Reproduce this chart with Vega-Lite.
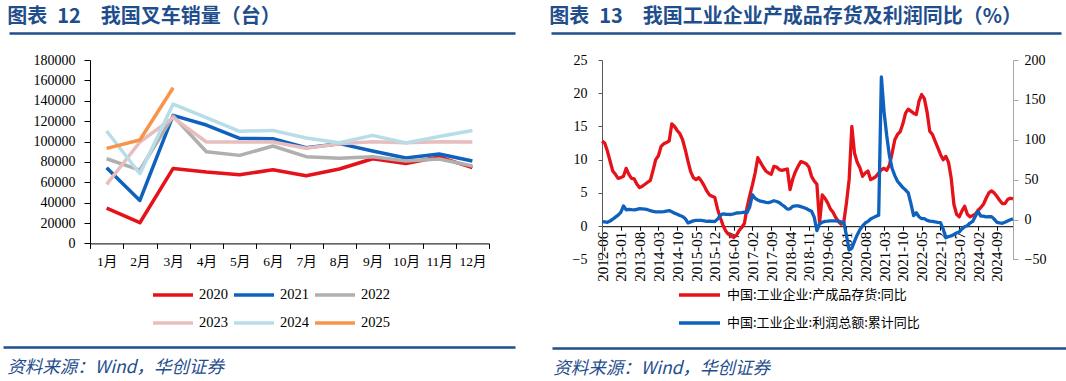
{
  "$schema": "https://vega.github.io/schema/vega-lite/v6.json",
  "background": "white",
  "padding": {"left": 0, "top": 6, "right": 0, "bottom": 0},
  "config": {
    "view": {"stroke": null},
    "axis": {"grid": false, "labelColor": "#000", "labelFont": "Liberation Serif", "labelFontSize": 14, "domainColor": "#000", "tickColor": "#000", "title": null},
    "legend": {"padding": 0}
  },
  "resolve": {"scale": {"color": "independent"}, "legend": {"color": "independent"}},
  "datasets": {
    "forklift": [
      {"year": "2020", "month": "1月", "sales": 34700}, {"year": "2020", "month": "2月", "sales": 20300}, {"year": "2020", "month": "3月", "sales": 73600}, {"year": "2020", "month": "4月", "sales": 70000}, {"year": "2020", "month": "5月", "sales": 67400}, {"year": "2020", "month": "6月", "sales": 72200}, {"year": "2020", "month": "7月", "sales": 66400}, {"year": "2020", "month": "8月", "sales": 73000}, {"year": "2020", "month": "9月", "sales": 83100}, {"year": "2020", "month": "10月", "sales": 78500}, {"year": "2020", "month": "11月", "sales": 84800}, {"year": "2020", "month": "12月", "sales": 74300},
      {"year": "2021", "month": "1月", "sales": 74300}, {"year": "2021", "month": "2月", "sales": 42200}, {"year": "2021", "month": "3月", "sales": 125700}, {"year": "2021", "month": "4月", "sales": 116200}, {"year": "2021", "month": "5月", "sales": 103100}, {"year": "2021", "month": "6月", "sales": 102800}, {"year": "2021", "month": "7月", "sales": 93900}, {"year": "2021", "month": "8月", "sales": 97900}, {"year": "2021", "month": "9月", "sales": 90700}, {"year": "2021", "month": "10月", "sales": 83800}, {"year": "2021", "month": "11月", "sales": 87700}, {"year": "2021", "month": "12月", "sales": 80800},
      {"year": "2022", "month": "1月", "sales": 83100}, {"year": "2022", "month": "2月", "sales": 72000}, {"year": "2022", "month": "3月", "sales": 125000}, {"year": "2022", "month": "4月", "sales": 90000}, {"year": "2022", "month": "5月", "sales": 86400}, {"year": "2022", "month": "6月", "sales": 95600}, {"year": "2022", "month": "7月", "sales": 85100}, {"year": "2022", "month": "8月", "sales": 83500}, {"year": "2022", "month": "9月", "sales": 85100}, {"year": "2022", "month": "10月", "sales": 80800}, {"year": "2022", "month": "11月", "sales": 82800}, {"year": "2022", "month": "12月", "sales": 75900},
      {"year": "2023", "month": "1月", "sales": 57900}, {"year": "2023", "month": "2月", "sales": 99500}, {"year": "2023", "month": "3月", "sales": 123400}, {"year": "2023", "month": "4月", "sales": 99500}, {"year": "2023", "month": "5月", "sales": 99500}, {"year": "2023", "month": "6月", "sales": 99500}, {"year": "2023", "month": "7月", "sales": 93300}, {"year": "2023", "month": "8月", "sales": 97900}, {"year": "2023", "month": "9月", "sales": 99800}, {"year": "2023", "month": "10月", "sales": 98800}, {"year": "2023", "month": "11月", "sales": 99800}, {"year": "2023", "month": "12月", "sales": 99500},
      {"year": "2024", "month": "1月", "sales": 110300}, {"year": "2024", "month": "2月", "sales": 68400}, {"year": "2024", "month": "3月", "sales": 136800}, {"year": "2024", "month": "4月", "sales": 123400}, {"year": "2024", "month": "5月", "sales": 110000}, {"year": "2024", "month": "6月", "sales": 110900}, {"year": "2024", "month": "7月", "sales": 103400}, {"year": "2024", "month": "8月", "sales": 98800}, {"year": "2024", "month": "9月", "sales": 106000}, {"year": "2024", "month": "10月", "sales": 98500}, {"year": "2024", "month": "11月", "sales": 105000}, {"year": "2024", "month": "12月", "sales": 110900},
      {"year": "2025", "month": "1月", "sales": 93300}, {"year": "2025", "month": "2月", "sales": 101500}, {"year": "2025", "month": "3月", "sales": 152800}
    ],
    "macro": [
      {"d": "2012-06", "inv": 12.8, "prof": -2.5}, {"d": "2012-07", "inv": 12.5, "prof": -3.0}, {"d": "2012-08", "inv": 11.3, "prof": -3.5}, {"d": "2012-09", "inv": 9.8, "prof": -2.0}, {"d": "2012-10", "inv": 8.3, "prof": 0.4}, {"d": "2012-11", "inv": 7.8, "prof": 3.0}, {"d": "2012-12", "inv": 7.2, "prof": 5.5},
      {"d": "2013-01", "inv": 7.3, "prof": 9.0}, {"d": "2013-02", "inv": 7.5, "prof": 17.0}, {"d": "2013-03", "inv": 8.7, "prof": 12.2}, {"d": "2013-04", "inv": 7.8, "prof": 12.8}, {"d": "2013-05", "inv": 7.2, "prof": 12.3}, {"d": "2013-06", "inv": 7.1, "prof": 12.0}, {"d": "2013-07", "inv": 6.3, "prof": 12.8}, {"d": "2013-08", "inv": 5.8, "prof": 13.6}, {"d": "2013-09", "inv": 6.0, "prof": 13.4}, {"d": "2013-10", "inv": 6.3, "prof": 13.0}, {"d": "2013-11", "inv": 6.6, "prof": 12.3}, {"d": "2013-12", "inv": 6.9, "prof": 11.2},
      {"d": "2014-01", "inv": 8.4, "prof": 10.2}, {"d": "2014-02", "inv": 10.0, "prof": 9.6}, {"d": "2014-03", "inv": 10.6, "prof": 9.6}, {"d": "2014-04", "inv": 12.0, "prof": 9.7}, {"d": "2014-05", "inv": 12.4, "prof": 9.8}, {"d": "2014-06", "inv": 12.6, "prof": 10.5}, {"d": "2014-07", "inv": 12.8, "prof": 11.2}, {"d": "2014-08", "inv": 15.4, "prof": 9.6}, {"d": "2014-09", "inv": 15.0, "prof": 8.0}, {"d": "2014-10", "inv": 14.4, "prof": 6.7}, {"d": "2014-11", "inv": 13.9, "prof": 5.0}, {"d": "2014-12", "inv": 13.0, "prof": 3.8},
      {"d": "2015-01", "inv": 11.5, "prof": 1.0}, {"d": "2015-02", "inv": 9.8, "prof": -4.3}, {"d": "2015-03", "inv": 8.2, "prof": -3.0}, {"d": "2015-04", "inv": 7.3, "prof": -1.7}, {"d": "2015-05", "inv": 7.0, "prof": -1.2}, {"d": "2015-06", "inv": 7.3, "prof": -1.0}, {"d": "2015-07", "inv": 6.8, "prof": -1.2}, {"d": "2015-08", "inv": 6.1, "prof": -1.6}, {"d": "2015-09", "inv": 5.3, "prof": -2.2}, {"d": "2015-10", "inv": 4.7, "prof": -2.0}, {"d": "2015-11", "inv": 4.5, "prof": -2.3}, {"d": "2015-12", "inv": 4.3, "prof": -2.5},
      {"d": "2016-01", "inv": 2.6, "prof": 0.5}, {"d": "2016-02", "inv": 1.3, "prof": 5.0}, {"d": "2016-03", "inv": 0.2, "prof": 7.0}, {"d": "2016-04", "inv": -0.7, "prof": 6.6}, {"d": "2016-05", "inv": -1.2, "prof": 6.5}, {"d": "2016-06", "inv": -1.4, "prof": 6.3}, {"d": "2016-07", "inv": -1.7, "prof": 7.0}, {"d": "2016-08", "inv": -1.4, "prof": 8.2}, {"d": "2016-09", "inv": -0.7, "prof": 8.4}, {"d": "2016-10", "inv": -0.2, "prof": 8.6}, {"d": "2016-11", "inv": 0.4, "prof": 9.2}, {"d": "2016-12", "inv": 2.8, "prof": 8.6},
      {"d": "2017-01", "inv": 4.6, "prof": 16.0}, {"d": "2017-02", "inv": 6.2, "prof": 31.0}, {"d": "2017-03", "inv": 8.0, "prof": 26.5}, {"d": "2017-04", "inv": 10.3, "prof": 24.5}, {"d": "2017-05", "inv": 9.6, "prof": 23.0}, {"d": "2017-06", "inv": 8.9, "prof": 22.3}, {"d": "2017-07", "inv": 8.3, "prof": 21.6}, {"d": "2017-08", "inv": 8.0, "prof": 21.3}, {"d": "2017-09", "inv": 7.8, "prof": 22.2}, {"d": "2017-10", "inv": 9.0, "prof": 23.5}, {"d": "2017-11", "inv": 8.9, "prof": 22.6}, {"d": "2017-12", "inv": 8.5, "prof": 21.2},
      {"d": "2018-01", "inv": 8.4, "prof": 18.5}, {"d": "2018-02", "inv": 8.5, "prof": 16.1}, {"d": "2018-03", "inv": 8.6, "prof": 13.0}, {"d": "2018-04", "inv": 5.5, "prof": 13.4}, {"d": "2018-05", "inv": 7.1, "prof": 16.5}, {"d": "2018-06", "inv": 8.2, "prof": 17.2}, {"d": "2018-07", "inv": 9.0, "prof": 17.2}, {"d": "2018-08", "inv": 9.7, "prof": 16.2}, {"d": "2018-09", "inv": 9.6, "prof": 15.0}, {"d": "2018-10", "inv": 9.4, "prof": 13.8}, {"d": "2018-11", "inv": 8.9, "prof": 12.0}, {"d": "2018-12", "inv": 7.5, "prof": 10.3},
      {"d": "2019-01", "inv": 6.8, "prof": 3.0}, {"d": "2019-02", "inv": 6.3, "prof": -14.0}, {"d": "2019-03", "inv": 0.5, "prof": -5.5}, {"d": "2019-04", "inv": 4.7, "prof": -3.4}, {"d": "2019-05", "inv": 4.2, "prof": -2.3}, {"d": "2019-06", "inv": 3.5, "prof": -2.0}, {"d": "2019-07", "inv": 2.6, "prof": -1.6}, {"d": "2019-08", "inv": 2.1, "prof": -1.7}, {"d": "2019-09", "inv": 1.3, "prof": -1.7}, {"d": "2019-10", "inv": 0.7, "prof": -2.1}, {"d": "2019-11", "inv": 0.3, "prof": -2.9}, {"d": "2019-12", "inv": 0.6, "prof": -3.3},
      {"d": "2020-01", "inv": 3.5, "prof": -20.0}, {"d": "2020-02", "inv": 7.0, "prof": -38.0}, {"d": "2020-03", "inv": 15.0, "prof": -36.0}, {"d": "2020-04", "inv": 11.0, "prof": -27.4}, {"d": "2020-05", "inv": 9.6, "prof": -19.3}, {"d": "2020-06", "inv": 8.8, "prof": -12.8}, {"d": "2020-07", "inv": 7.5, "prof": -8.1}, {"d": "2020-08", "inv": 8.0, "prof": -4.4}, {"d": "2020-09", "inv": 8.3, "prof": -2.4}, {"d": "2020-10", "inv": 7.0, "prof": 0.7}, {"d": "2020-11", "inv": 7.2, "prof": 2.4}, {"d": "2020-12", "inv": 7.5, "prof": 4.1},
      {"d": "2021-01", "inv": 8.0, "prof": 5.5}, {"d": "2021-02", "inv": 8.5, "prof": 178.9}, {"d": "2021-03", "inv": 8.7, "prof": 135}, {"d": "2021-04", "inv": 8.4, "prof": 105}, {"d": "2021-05", "inv": 9.2, "prof": 80}, {"d": "2021-06", "inv": 11.0, "prof": 64}, {"d": "2021-07", "inv": 13.0, "prof": 55}, {"d": "2021-08", "inv": 13.8, "prof": 48}, {"d": "2021-09", "inv": 14.2, "prof": 44}, {"d": "2021-10", "inv": 15.4, "prof": 40}, {"d": "2021-11", "inv": 17.0, "prof": 37}, {"d": "2021-12", "inv": 17.6, "prof": 33.5},
      {"d": "2022-01", "inv": 17.3, "prof": 20}, {"d": "2022-02", "inv": 17.0, "prof": 5.0}, {"d": "2022-03", "inv": 16.8, "prof": 8.5}, {"d": "2022-04", "inv": 18.8, "prof": 3.5}, {"d": "2022-05", "inv": 19.8, "prof": 1.0}, {"d": "2022-06", "inv": 19.2, "prof": 1.0}, {"d": "2022-07", "inv": 17.2, "prof": -1.1}, {"d": "2022-08", "inv": 14.3, "prof": -2.1}, {"d": "2022-09", "inv": 13.8, "prof": -2.3}, {"d": "2022-10", "inv": 12.8, "prof": -3.0}, {"d": "2022-11", "inv": 11.8, "prof": -3.6}, {"d": "2022-12", "inv": 10.8, "prof": -4.0},
      {"d": "2023-01", "inv": 10.0, "prof": -12}, {"d": "2023-02", "inv": 10.5, "prof": -22.9}, {"d": "2023-03", "inv": 9.6, "prof": -21.4}, {"d": "2023-04", "inv": 7.2, "prof": -20.6}, {"d": "2023-05", "inv": 3.3, "prof": -18.8}, {"d": "2023-06", "inv": 1.8, "prof": -16.8}, {"d": "2023-07", "inv": 1.4, "prof": -15.5}, {"d": "2023-08", "inv": 2.3, "prof": -11.7}, {"d": "2023-09", "inv": 3.0, "prof": -9.0}, {"d": "2023-10", "inv": 1.8, "prof": -7.8}, {"d": "2023-11", "inv": 1.4, "prof": -4.4}, {"d": "2023-12", "inv": 1.6, "prof": -2.3},
      {"d": "2024-01", "inv": 1.8, "prof": 4.0}, {"d": "2024-02", "inv": 2.4, "prof": 10.2}, {"d": "2024-03", "inv": 2.8, "prof": 4.3}, {"d": "2024-04", "inv": 3.3, "prof": 4.3}, {"d": "2024-05", "inv": 4.2, "prof": 3.4}, {"d": "2024-06", "inv": 5.0, "prof": 3.5}, {"d": "2024-07", "inv": 5.3, "prof": 3.6}, {"d": "2024-08", "inv": 5.0, "prof": 0.5}, {"d": "2024-09", "inv": 4.5, "prof": -3.5}, {"d": "2024-10", "inv": 3.9, "prof": -4.3}, {"d": "2024-11", "inv": 3.4, "prof": -4.7}, {"d": "2024-12", "inv": 3.4, "prof": -3.3},
      {"d": "2025-01", "inv": 4.0, "prof": -1.8}, {"d": "2025-02", "inv": 4.2, "prof": -0.3}, {"d": "2025-03", "inv": 4.1, "prof": 0.8}
    ]
  },
  "align": "each",
  "spacing": -61,
  "hconcat": [
    {
      "spacing": 16,
      "vconcat": [
        {
          "data": {"values": [{"panel": "header"}]},
          "width": 399, "height": 1,
          "title": {"text": "图表\u200212\u3000我国叉车销量（台）", "anchor": "start", "frame": "bounds", "dx": 1, "font": "Noto Sans CJK SC", "fontSize": 20, "fontWeight": "bold", "color": "#1F4E8C", "offset": 4},
          "mark": {"type": "point", "opacity": 0},
          "encoding": {
            "x": {"datum": 0, "type": "quantitative", "scale": {"domain": [0, 1], "range": [-81, 425]}, "axis": {"orient": "top", "domainColor": "#1F4E8C", "domainWidth": 2.5, "ticks": false, "labels": false, "title": null}}
          }
        },
        {
          "data": {"name": "forklift"},
          "width": 399, "height": 183.4,
          "mark": {"type": "line", "strokeWidth": 3.5, "strokeJoin": "round"},
          "encoding": {
            "x": {"field": "month", "type": "ordinal", "bandPosition": 0.5,
              "scale": {"type": "band", "domain": ["1月", "2月", "3月", "4月", "5月", "6月", "7月", "8月", "9月", "10月", "11月", "12月"], "paddingInner": 0, "paddingOuter": 0},
              "axis": {"tickBand": "extent", "labelAngle": 0, "tickSize": 5, "labelPadding": 6, "labelFont": "Liberation Serif, Noto Sans CJK SC", "labelFontSize": 13.5}},
            "y": {"field": "sales", "type": "quantitative", "scale": {"domain": [0, 180000]},
              "axis": {"values": [0, 20000, 40000, 60000, 80000, 100000, 120000, 140000, 160000, 180000], "format": "d", "tickSize": 6, "labelPadding": 9}},
            "color": {"field": "year", "type": "nominal",
              "scale": {"domain": ["2020", "2021", "2022", "2023", "2024", "2025"], "range": ["#E5121A", "#0E62BE", "#AFAFAF", "#E8BDBD", "#B7DDE8", "#F7944A"]},
              "legend": {"orient": "none", "legendX": 61, "legendY": 254, "direction": "horizontal", "columns": 3, "title": null, "symbolType": "stroke", "symbolSize": 1600, "symbolStrokeWidth": 3.5, "clipHeight": 16, "rowPadding": 12, "columnPadding": 4, "labelOffset": 4, "labelFont": "Liberation Serif", "labelFontSize": 14.5, "labelColor": "#000"}}
          }
        },
        {
          "data": {"values": [{"panel": "footer"}]},
          "width": 399, "height": 63,
          "title": {"text": "资料来源：Wind，华创证券", "orient": "bottom", "anchor": "start", "frame": "bounds", "dx": 7, "font": "Noto Sans CJK SC", "fontSize": 17.5, "fontStyle": "italic", "fontWeight": "normal", "color": "#1F4E8C", "offset": 12},
          "mark": {"type": "point", "opacity": 0},
          "encoding": {
            "x": {"datum": 0, "type": "quantitative", "scale": {"domain": [0, 1], "range": [-87, 425]}, "axis": {"orient": "bottom", "domainColor": "#1F4E8C", "domainWidth": 2.5, "ticks": false, "labels": false, "title": null}}
          }
        }
      ]
    },
    {
      "spacing": 16,
      "vconcat": [
        {
          "data": {"values": [{"panel": "header"}]},
          "width": 411, "height": 1,
          "title": {"text": "图表\u200213\u3000我国工业企业产成品存货及利润同比（%）", "anchor": "start", "frame": "bounds", "dx": 1, "font": "Noto Sans CJK SC", "fontSize": 20, "fontWeight": "bold", "color": "#1F4E8C", "offset": 4},
          "mark": {"type": "point", "opacity": 0},
          "encoding": {
            "x": {"datum": 0, "type": "quantitative", "scale": {"domain": [0, 1], "range": [-51, 459]}, "axis": {"orient": "top", "domainColor": "#1F4E8C", "domainWidth": 2.5, "ticks": false, "labels": false, "title": null}}
          }
        },
        {
          "data": {"name": "macro"},
          "width": 411, "height": 199.4,
          "layer": [
            {
              "mark": {"type": "line", "strokeWidth": 3.3, "strokeJoin": "round"},
              "encoding": {
                "x": {"field": "d", "type": "ordinal", "scale": {"type": "point", "padding": 0},
                  "axis": {"values": ["2012-06", "2013-01", "2013-08", "2014-03", "2014-10", "2015-05", "2015-12", "2016-07", "2017-02", "2017-09", "2018-04", "2018-11", "2019-06", "2020-01", "2020-08", "2021-03", "2021-10", "2022-05", "2022-12", "2023-07", "2024-02", "2024-09"], "labelAngle": 270, "offset": -33.2, "tickSize": 4, "labelPadding": 1, "labelFontSize": 15}},
                "y": {"field": "inv", "type": "quantitative", "scale": {"domain": [-5, 25]},
                  "axis": {"values": [-5, 0, 5, 10, 15, 20, 25], "tickSize": 4, "labelPadding": 11, "domainColor": "#595959", "tickColor": "#595959"}},
                "color": {"datum": "中国:工业企业:产成品存货:同比", "type": "nominal",
                  "scale": {"domain": ["中国:工业企业:产成品存货:同比", "中国:工业企业:利润总额:累计同比"], "range": ["#E5121A", "#0E62BE"]},
                  "legend": {"orient": "none", "legendX": 75, "legendY": 254, "direction": "vertical", "title": null, "symbolType": "stroke", "symbolSize": 1681, "symbolStrokeWidth": 3.5, "clipHeight": 16, "rowPadding": 12, "labelOffset": 5, "labelFont": "Noto Sans CJK SC", "labelFontSize": 13, "labelColor": "#000", "labelLimit": 400}}
              }
            },
            {
              "mark": {"type": "line", "strokeWidth": 3.3, "strokeJoin": "round"},
              "encoding": {
                "x": {"field": "d", "type": "ordinal"},
                "y": {"field": "prof", "type": "quantitative", "scale": {"domain": [-50, 200]},
                  "axis": {"orient": "right", "values": [-50, 0, 50, 100, 150, 200], "tickSize": 5, "labelPadding": 6, "domainColor": "#A6A6A6", "tickColor": "#A6A6A6"}},
                "color": {"datum": "中国:工业企业:利润总额:累计同比", "type": "nominal"}
              }
            }
          ],
          "resolve": {"scale": {"y": "independent"}}
        },
        {
          "data": {"values": [{"panel": "footer"}]},
          "width": 411, "height": 50,
          "title": {"text": "资料来源：Wind，华创证券", "orient": "bottom", "anchor": "start", "frame": "bounds", "dx": 4, "font": "Noto Sans CJK SC", "fontSize": 17.5, "fontStyle": "italic", "fontWeight": "normal", "color": "#1F4E8C", "offset": 12},
          "mark": {"type": "point", "opacity": 0},
          "encoding": {
            "x": {"datum": 0, "type": "quantitative", "scale": {"domain": [0, 1], "range": [-50, 476]}, "axis": {"orient": "bottom", "domainColor": "#1F4E8C", "domainWidth": 2.5, "ticks": false, "labels": false, "title": null}}
          }
        }
      ]
    }
  ]
}
